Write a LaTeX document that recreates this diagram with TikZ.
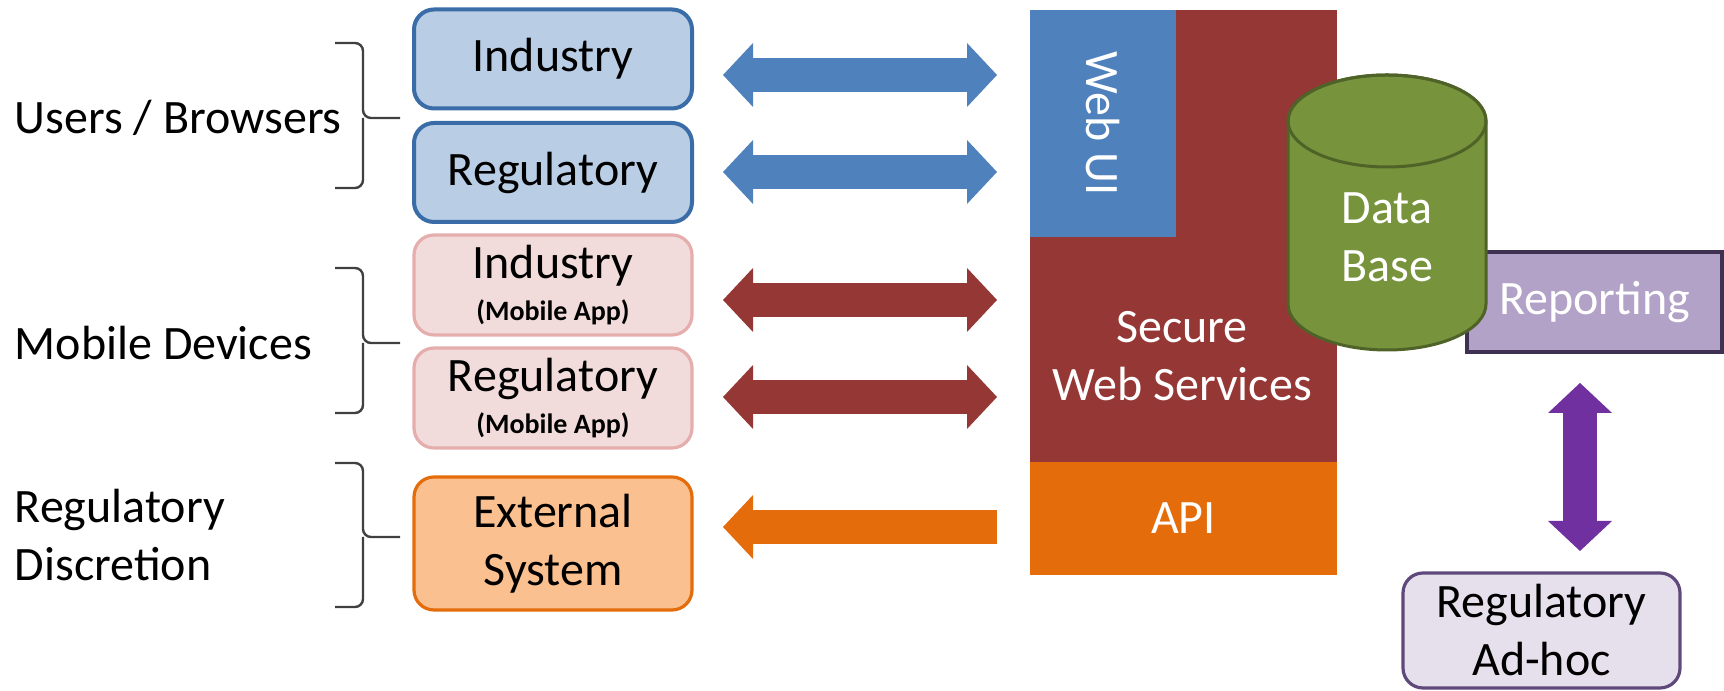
\documentclass[tikz,border=0pt]{standalone}
\usepackage{fontspec}
\setmainfont{Carlito}
\usepackage{xcolor}
\usepackage{tikz}
\usetikzlibrary{arrows.meta}
\definecolor{boxblue}{HTML}{B9CDE5}
\definecolor{lineblue}{HTML}{3A6CA8}
\definecolor{boxpink}{HTML}{F2DCDB}
\definecolor{linepink}{HTML}{E6ADAD}
\definecolor{boxorange}{HTML}{FAC090}
\definecolor{apiorange}{HTML}{E46C0A}
\definecolor{webblue}{HTML}{4F81BD}
\definecolor{wsred}{HTML}{953735}
\definecolor{dbgreen}{HTML}{77933C}
\definecolor{dbline}{HTML}{4F6228}
\definecolor{arrowpurple}{HTML}{7030A0}
\definecolor{lilac}{HTML}{B3A2C7}
\definecolor{navy}{HTML}{3F3151}
\definecolor{lavender}{HTML}{E6E0EC}
\definecolor{plum}{HTML}{5F497A}
\definecolor{bracegray}{HTML}{404040}
\tikzset{
  big/.style={font=\fontsize{12}{14.5}\selectfont},
  grp/.style={big, anchor=west, align=left, inner sep=0pt},
  client/.style={big, rounded corners=5pt, line width=0.8pt, minimum width=69.5pt, align=center, inner sep=0pt},
  webbox/.style={client, fill=boxblue, draw=lineblue, line width=1pt, minimum height=24.75pt},
  mobbox/.style={client, fill=boxpink, draw=linepink, minimum height=25pt},
  extbox/.style={client, fill=boxorange, draw=apiorange, minimum height=33.25pt},
  wtxt/.style={big, text=white, align=center},
  brace/.style={draw=bracegray, line width=0.6pt, rounded corners=2pt},
  blockarrow/.style={line width=8.5pt, {Triangle[length=7.5pt, width=16pt, line width=0pt]}-{Triangle[length=7.5pt, width=16pt, line width=0pt]}},
  onearrow/.style={line width=8.5pt, -{Triangle[length=7.5pt, width=16pt, line width=0pt]}}
}

\begin{document}
\begin{tikzpicture}[x=0.25pt, y=-0.25pt]
  \useasboundingbox (0,0) rectangle (1724,691);
  % groups on the left
  \node[grp] (users) at (14,118) {Users / Browsers};
  \node[grp] (mobile) at (14,343) {Mobile Devices};
  \node[grp] (discr) at (14,535) {Regulatory\\Discretion};
  \foreach \t/\m/\b in {43/118/188, 268/343/413, 463/537/607} {
    \draw[brace] (335,\t) -| (363,\m) -- (400,\m);
    \draw[brace] (335,\b) -| (363,\m);
  }
  % clients
  \node[webbox] (indweb) at (553,59) {Industry};
  \node[webbox] (regweb) at (553,172.5) {Regulatory};
  \node[mobbox] (indmob) at (553,285) {Industry\\[-4pt]{\fontsize{7}{8}\selectfont\bfseries (Mobile App)}};
  \node[mobbox] (regmob) at (553,398) {Regulatory\\[-4pt]{\fontsize{7}{8}\selectfont\bfseries (Mobile App)}};
  \node[extbox] (extsys) at (553,543.5) {External\\System};
  % arrows to the services
  \foreach \y/\c [count=\i] in {75/webblue, 172/webblue, 300/wsred, 397/wsred} {
    \coordinate (al\i) at (723,\y);
    \coordinate (ar\i) at (997,\y);
    \draw[blockarrow, draw=\c] (al\i) -- (ar\i);
  }
  \coordinate (apil) at (723,527);
  \coordinate (apir) at (997,527);
  \draw[onearrow, draw=apiorange] (apir) -- (apil);
  % services
  \fill[wsred] (1030,10) rectangle (1337,462);
  \node[wtxt, fill=webblue, rotate=-90, minimum width=56.75pt, minimum height=36.5pt, inner sep=0pt] (webui) at (1103,123.5) {Web UI};
  \node[wtxt] (sws) at (1182,356) {Secure\\Web Services};
  \node[wtxt, fill=apiorange, minimum width=76.75pt, minimum height=28.25pt, inner sep=0pt] (api) at (1183.5,518.5) {API};
  % reporting and data base
  \node[wtxt, fill=lilac, draw=navy, line width=1pt, minimum width=63.75pt, minimum height=25pt] (rep) at (1594.5,302) {Reporting};
  \filldraw[fill=dbgreen, draw=dbline, line width=0.75pt] (1288,121) -- (1288,304)
    arc[start angle=180, end angle=360, x radius=24.75pt, y radius=11.5pt] -- (1486,121)
    arc[start angle=0, end angle=180, x radius=24.75pt, y radius=11.5pt] -- cycle;
  \draw[dbline, line width=0.75pt] (1387,121) ellipse[x radius=24.75pt, y radius=11.5pt];
  \node[wtxt] (db) at (1387,237) {Data\\Base};
  \node[client, fill=lavender, draw=plum, minimum width=69.25pt, minimum height=28.75pt] (adhoc) at (1541.5,630.5) {Regulatory\\Ad-hoc};
  \coordinate (rept) at (1580,383);
  \coordinate (repb) at (1580,551);
  \draw[blockarrow, draw=arrowpurple] (rept) -- (repb);
\end{tikzpicture}
\end{document}
